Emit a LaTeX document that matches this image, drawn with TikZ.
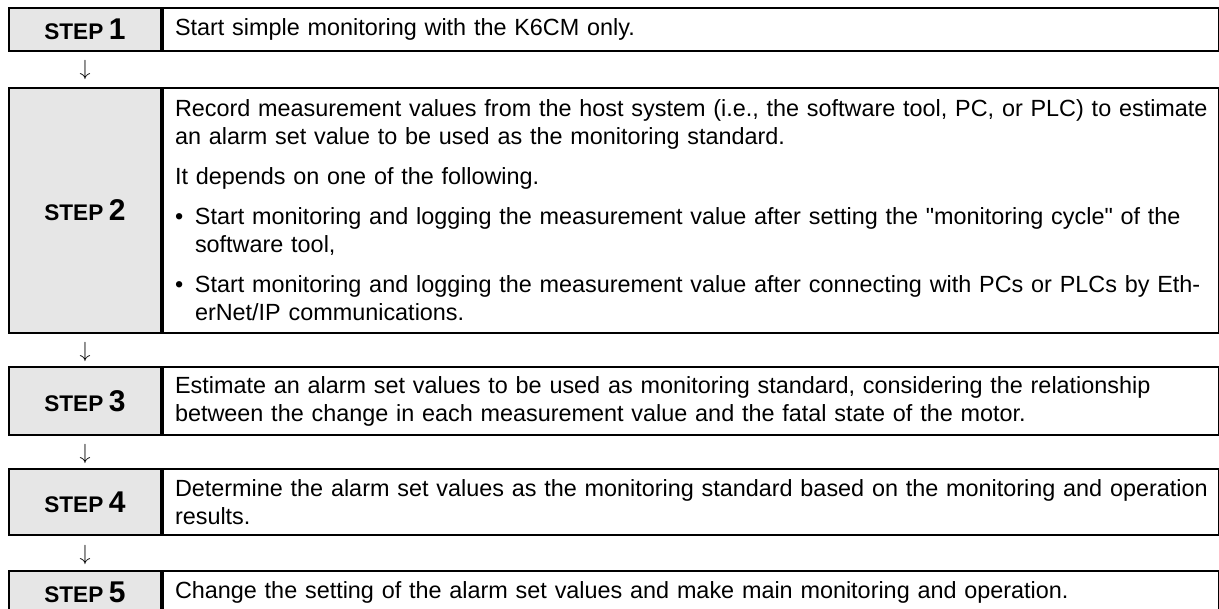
\documentclass[tikz,border=0pt]{standalone}
\usepackage{fontspec}
\setmainfont{Liberation Sans}
\usetikzlibrary{positioning}
\definecolor{labelgray}{RGB}{230,230,230}
\newcommand{\stepnum}[1]{{\fontsize{11.3}{11.3}\selectfont\bfseries STEP} {\fontsize{15}{15}\selectfont\bfseries #1}}
\newcommand{\bulletline}[1]{\mbox{\makebox[10pt][l]{\textbullet}#1}}
\begin{document}
\begin{tikzpicture}[x=0.5pt, y=-0.5pt,
    steplabel/.style={rectangle, draw, line width=1pt, fill=labelgray, minimum width=76pt, inner sep=0pt, anchor=north west},
    steptext/.style={rectangle, draw, line width=1pt, text width=516pt, inner xsep=6pt, inner ysep=0pt, align=left, anchor=north west, font=\fontsize{11.7}{14}\selectfont},
    downarrow/.style={inner sep=0pt, font=\fontsize{11}{11}\selectfont}]
    \clip (0,0) rectangle (1219,609);
    % STEP 1
    \node[steplabel, minimum height=21.5pt] (l1) at (8,7) {\stepnum{1}};
    \node[steptext, minimum height=21.5pt] (t1) at (l1.north east) {Start simple monitoring with the K6CM only.};
    \node[downarrow] (a1) at (85,70) {$\downarrow$};

    % STEP 2
    \node[steplabel, minimum height=122.5pt] (l2) at (8,87) {\stepnum{2}};
    \node[steptext, minimum height=122.5pt] (t2) at (l2.north east) {\mbox{Record measurement values from the host system (i.e., the software tool, PC, or PLC) to estimate}\\
      an alarm set value to be used as the monitoring standard.\\[6pt]
      It depends on one of the following.\\[6pt]
      \bulletline{Start monitoring and logging the measurement value after setting the \textquotedbl monitoring cycle\textquotedbl{} of the}\\
      \hspace*{10pt}software tool,\\[6pt]
      \bulletline{Start monitoring and logging the measurement value after connecting with PCs or PLCs by Eth-}\\
      \hspace*{10pt}erNet/IP communications.};
    \node[downarrow] (a2) at (85,352) {$\downarrow$};

    % STEP 3
    \node[steplabel, minimum height=34pt] (l3) at (8,366) {\stepnum{3}};
    \node[steptext, minimum height=34pt] (t3) at (l3.north east) {Estimate an alarm set values to be used as monitoring standard, considering the relationship\\
      between the change in each measurement value and the fatal state of the motor.};
    \node[downarrow] (a3) at (85,454) {$\downarrow$};

    % STEP 4
    \node[steplabel, minimum height=33pt] (l4) at (8,468) {\stepnum{4}};
    \node[steptext, minimum height=33pt] (t4) at (l4.north east) {\mbox{Determine the alarm set values as the monitoring standard based on the monitoring and operation}\\
      results.};
    \node[downarrow] (a4) at (85,555) {$\downarrow$};

    % STEP 5
    \node[steplabel, minimum height=21.5pt] (l5) at (8,570) {\stepnum{5}};
    \node[steptext, minimum height=21.5pt] (t5) at (l5.north east) {Change the setting of the alarm set values and make main monitoring and operation.};
  \end{tikzpicture}
\end{document}
